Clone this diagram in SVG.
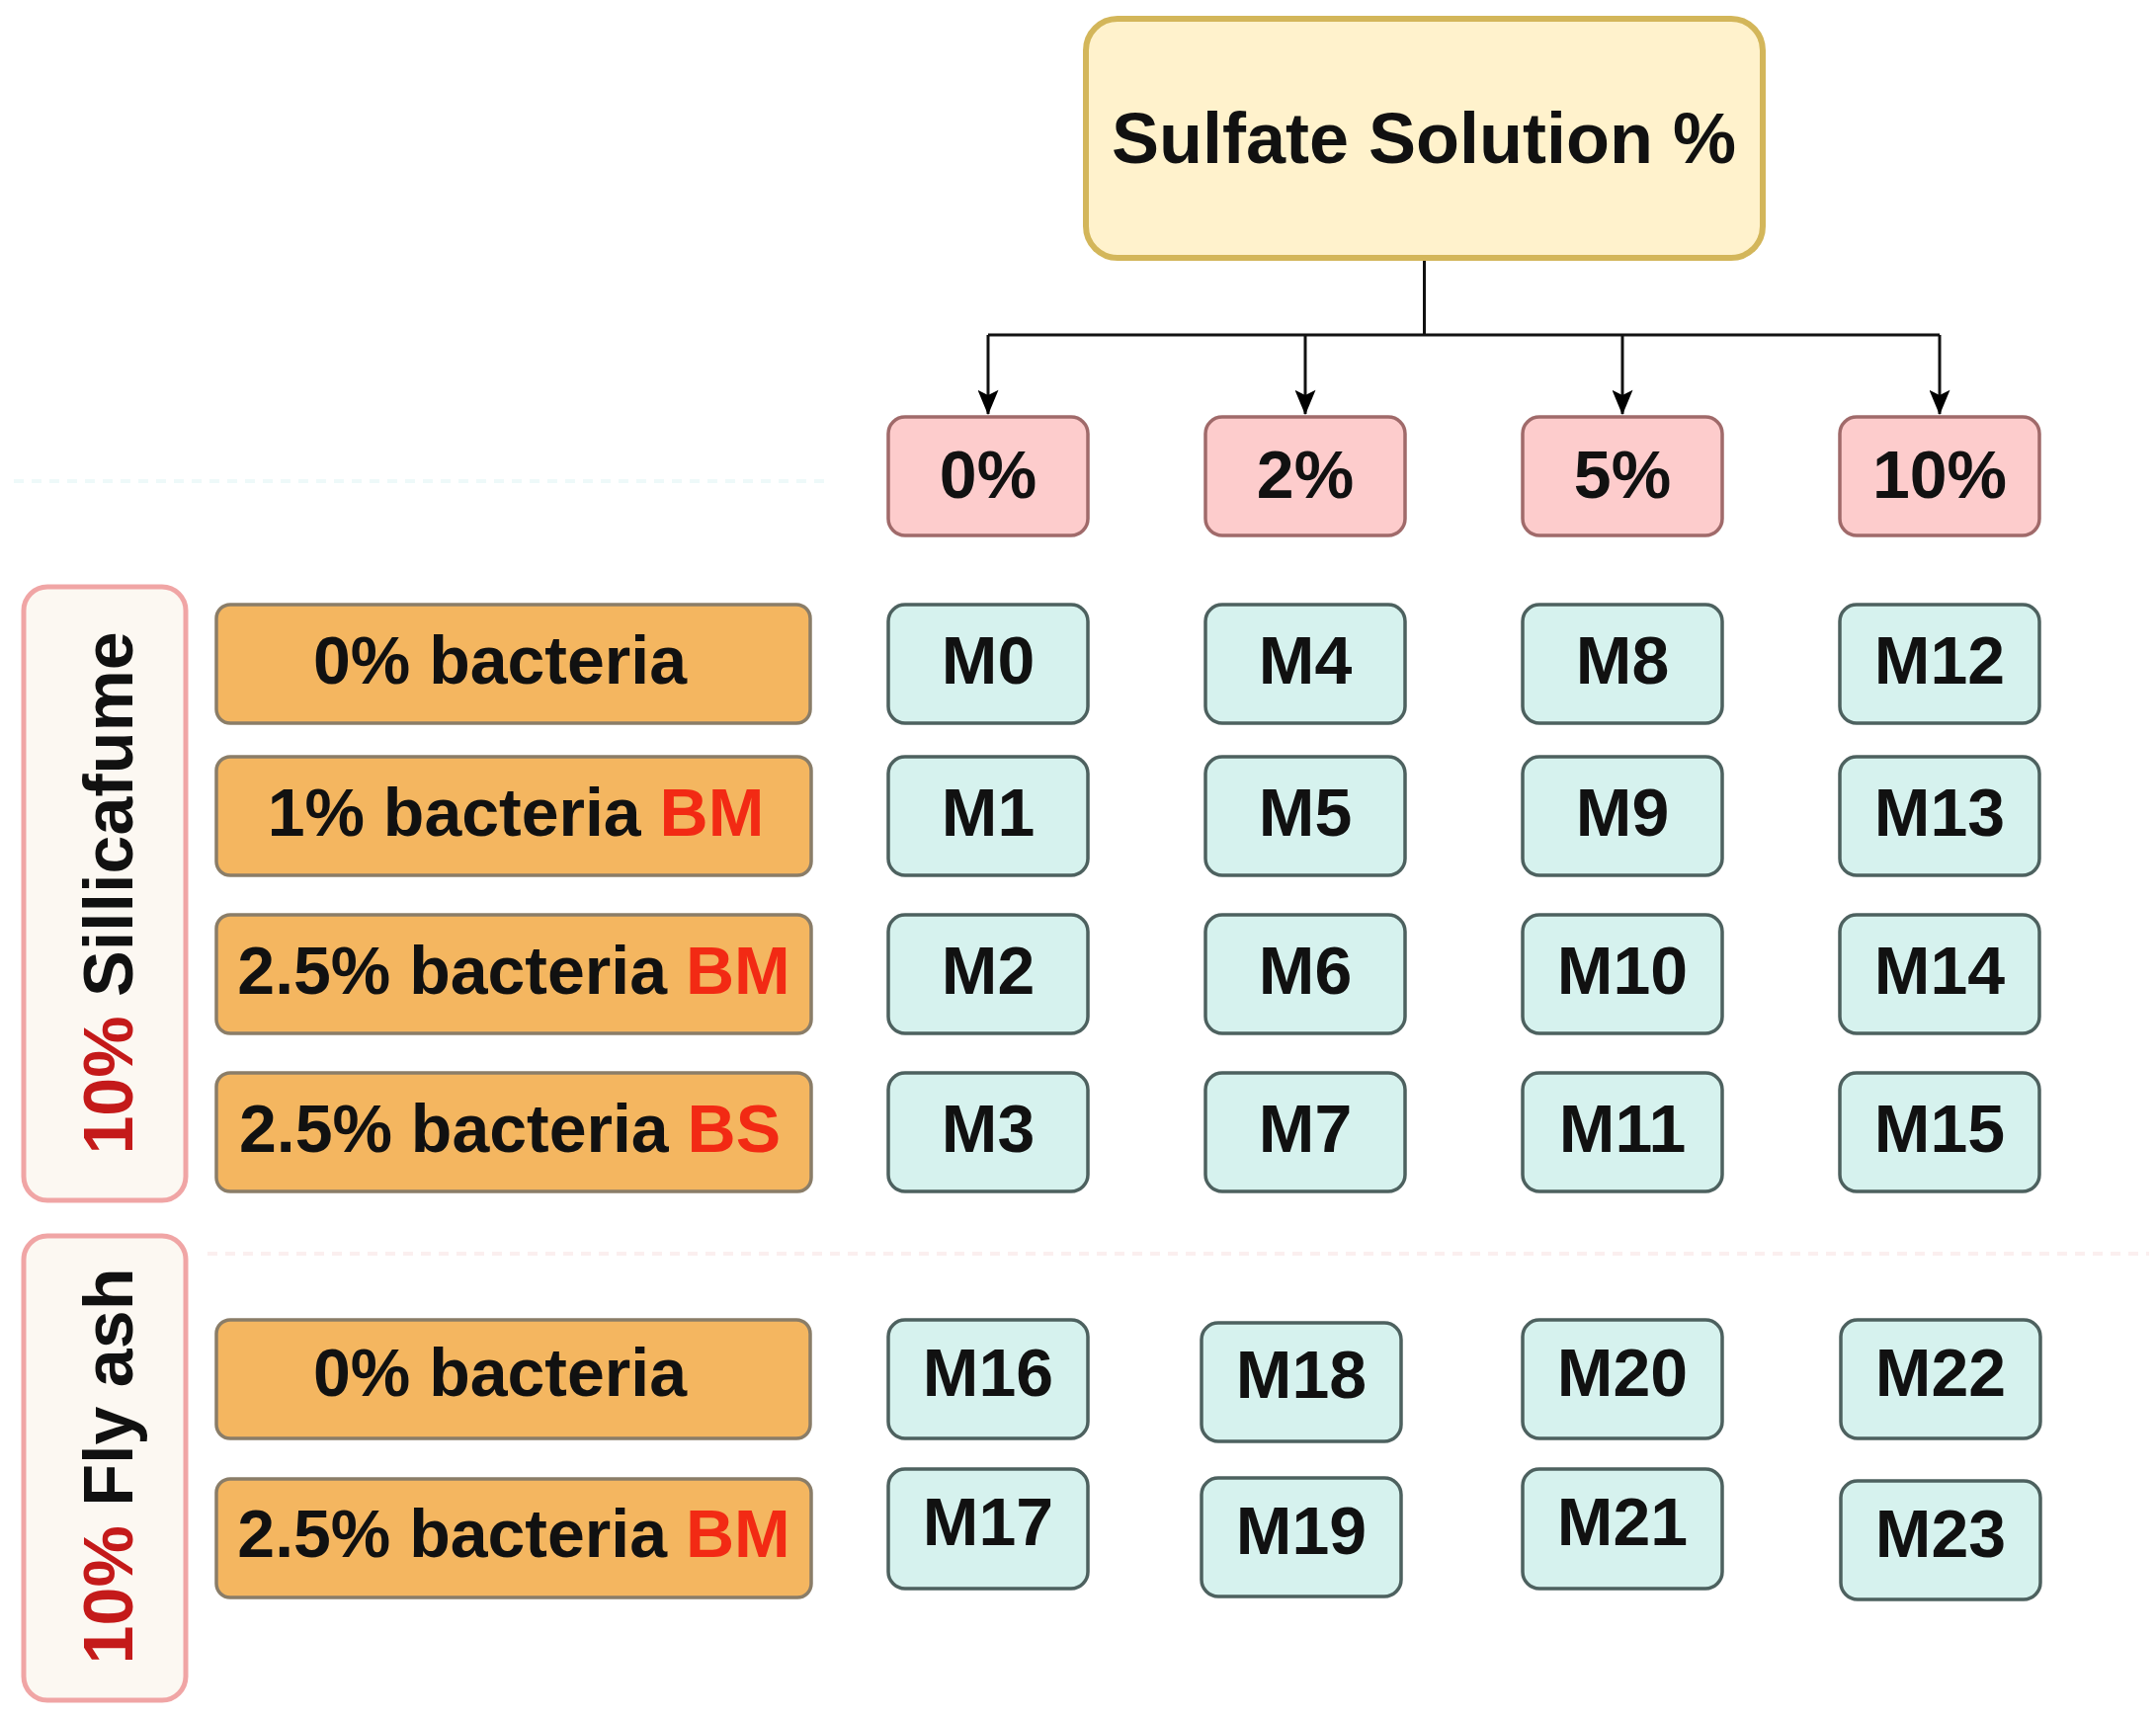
<svg xmlns="http://www.w3.org/2000/svg" width="2182" height="1739" viewBox="0 0 2182 1739">
<defs>
<marker id="arr" viewBox="0 0 12 10" refX="11.5" refY="5" markerWidth="26" markerHeight="21" markerUnits="userSpaceOnUse" orient="auto">
<path d="M0,0 L12,5 L0,10 L2.5,5 z" fill="#000"/>
</marker>
<style>
text{font-family:"Liberation Sans",Arial,sans-serif;font-weight:bold;text-anchor:middle;fill:#111}
.top{fill:#fff2cc;stroke:#d3b65a;stroke-width:6}
.pct{fill:#fdcccc;stroke:#a06a6a;stroke-width:3.5}
.m{fill:#d6f2ee;stroke:#4d615f;stroke-width:3.5}
.org{fill:#f4b660;stroke:#8a7d68;stroke-width:3.5}
.grp{fill:#fcf8f2;stroke:#f0a5a5;stroke-width:5}
.lbl{font-size:68px}
.red{fill:#f22a14}
.dred{fill:#c41a1a}
.vt{font-size:70px}
.conn{stroke:#111;stroke-width:3;fill:none}
.faint{stroke-width:4;stroke-dasharray:10 8;fill:none}
</style>
</defs>
<rect width="2182" height="1739" fill="#ffffff"/>
<g id="bg-lines">
<line class="faint" x1="14" y1="487" x2="840" y2="487" stroke="#eef9f9"/>
<line class="faint" x1="210" y1="1269" x2="2175" y2="1269" stroke="#fbefef"/>
</g>
<g id="connectors">
<path class="conn" d="M1441.5,262 V339"/>
<path class="conn" d="M1000,339 H1963"/>
<path class="conn" d="M1000,339 V419" marker-end="url(#arr)"/>
<path class="conn" d="M1321,339 V419" marker-end="url(#arr)"/>
<path class="conn" d="M1642,339 V419" marker-end="url(#arr)"/>
<path class="conn" d="M1963,339 V419" marker-end="url(#arr)"/>
</g>
<g id="sulfate">
<rect class="top" x="1099" y="19" width="685" height="242" rx="32"/>
<text x="1441" y="165" style="font-size:72px">Sulfate Solution %</text>
</g>
<g id="p0"><rect class="pct" x="899" y="422" width="202" height="120" rx="17"/><text class="lbl" x="1000" y="504">0%</text></g>
<g id="p2"><rect class="pct" x="1220" y="422" width="202" height="120" rx="17"/><text class="lbl" x="1321" y="504">2%</text></g>
<g id="p5"><rect class="pct" x="1541" y="422" width="202" height="120" rx="17"/><text class="lbl" x="1642" y="504">5%</text></g>
<g id="p10"><rect class="pct" x="1862" y="422" width="202" height="120" rx="17"/><text class="lbl" x="1963" y="504">10%</text></g>

<g id="silicafume"><rect class="grp" x="24" y="594" width="164" height="621" rx="24"/>
<text class="vt" transform="translate(134,904) rotate(-90)"><tspan class="dred">10%</tspan> Sillicafume</text></g>
<g id="flyash"><rect class="grp" x="24" y="1251" width="164" height="470" rx="24"/>
<text class="vt" transform="translate(134,1484) rotate(-90)"><tspan class="dred">10%</tspan> Fly ash</text></g>

<g id="sf0"><rect class="org" x="219" y="612" width="601" height="120" rx="14"/><text class="lbl" x="506" y="692">0% bacteria</text></g>
<g id="sf1"><rect class="org" x="219" y="766" width="602" height="120" rx="14"/><text class="lbl" x="522" y="846">1% bacteria <tspan class="red">BM</tspan></text></g>
<g id="sf2"><rect class="org" x="219" y="926" width="602" height="120" rx="14"/><text class="lbl" x="520" y="1006">2.5% bacteria <tspan class="red">BM</tspan></text></g>
<g id="sf3"><rect class="org" x="219" y="1086" width="602" height="120" rx="14"/><text class="lbl" x="516" y="1166">2.5% bacteria <tspan class="red">BS</tspan></text></g>
<g id="fa0"><rect class="org" x="219" y="1336" width="601" height="120" rx="14"/><text class="lbl" x="506" y="1413">0% bacteria</text></g>
<g id="fa1"><rect class="org" x="219" y="1497" width="602" height="120" rx="14"/><text class="lbl" x="520" y="1576">2.5% bacteria <tspan class="red">BM</tspan></text></g>

<g id="M0"><rect class="m" x="899" y="612" width="202" height="120" rx="17"/><text class="lbl" x="1000" y="692">M0</text></g>
<g id="M1"><rect class="m" x="899" y="766" width="202" height="120" rx="17"/><text class="lbl" x="1000" y="846">M1</text></g>
<g id="M2"><rect class="m" x="899" y="926" width="202" height="120" rx="17"/><text class="lbl" x="1000" y="1006">M2</text></g>
<g id="M3"><rect class="m" x="899" y="1086" width="202" height="120" rx="17"/><text class="lbl" x="1000" y="1166">M3</text></g>
<g id="M4"><rect class="m" x="1220" y="612" width="202" height="120" rx="17"/><text class="lbl" x="1321" y="692">M4</text></g>
<g id="M5"><rect class="m" x="1220" y="766" width="202" height="120" rx="17"/><text class="lbl" x="1321" y="846">M5</text></g>
<g id="M6"><rect class="m" x="1220" y="926" width="202" height="120" rx="17"/><text class="lbl" x="1321" y="1006">M6</text></g>
<g id="M7"><rect class="m" x="1220" y="1086" width="202" height="120" rx="17"/><text class="lbl" x="1321" y="1166">M7</text></g>
<g id="M8"><rect class="m" x="1541" y="612" width="202" height="120" rx="17"/><text class="lbl" x="1642" y="692">M8</text></g>
<g id="M9"><rect class="m" x="1541" y="766" width="202" height="120" rx="17"/><text class="lbl" x="1642" y="846">M9</text></g>
<g id="M10"><rect class="m" x="1541" y="926" width="202" height="120" rx="17"/><text class="lbl" x="1642" y="1006">M10</text></g>
<g id="M11"><rect class="m" x="1541" y="1086" width="202" height="120" rx="17"/><text class="lbl" x="1642" y="1166">M11</text></g>
<g id="M12"><rect class="m" x="1862" y="612" width="202" height="120" rx="17"/><text class="lbl" x="1963" y="692">M12</text></g>
<g id="M13"><rect class="m" x="1862" y="766" width="202" height="120" rx="17"/><text class="lbl" x="1963" y="846">M13</text></g>
<g id="M14"><rect class="m" x="1862" y="926" width="202" height="120" rx="17"/><text class="lbl" x="1963" y="1006">M14</text></g>
<g id="M15"><rect class="m" x="1862" y="1086" width="202" height="120" rx="17"/><text class="lbl" x="1963" y="1166">M15</text></g>

<g id="M16"><rect class="m" x="899" y="1336" width="202" height="120" rx="17"/><text class="lbl" x="1000" y="1413">M16</text></g>
<g id="M17"><rect class="m" x="899" y="1487" width="202" height="121" rx="17"/><text class="lbl" x="1000" y="1564">M17</text></g>
<g id="M18"><rect class="m" x="1216" y="1339" width="202" height="120" rx="17"/><text class="lbl" x="1317" y="1415">M18</text></g>
<g id="M19"><rect class="m" x="1216" y="1496" width="202" height="120" rx="17"/><text class="lbl" x="1317" y="1573">M19</text></g>
<g id="M20"><rect class="m" x="1541" y="1336" width="202" height="120" rx="17"/><text class="lbl" x="1642" y="1413">M20</text></g>
<g id="M21"><rect class="m" x="1541" y="1487" width="202" height="121" rx="17"/><text class="lbl" x="1642" y="1564">M21</text></g>
<g id="M22"><rect class="m" x="1863" y="1336" width="202" height="120" rx="17"/><text class="lbl" x="1964" y="1413">M22</text></g>
<g id="M23"><rect class="m" x="1863" y="1499" width="202" height="120" rx="17"/><text class="lbl" x="1964" y="1576">M23</text></g>
</svg>
